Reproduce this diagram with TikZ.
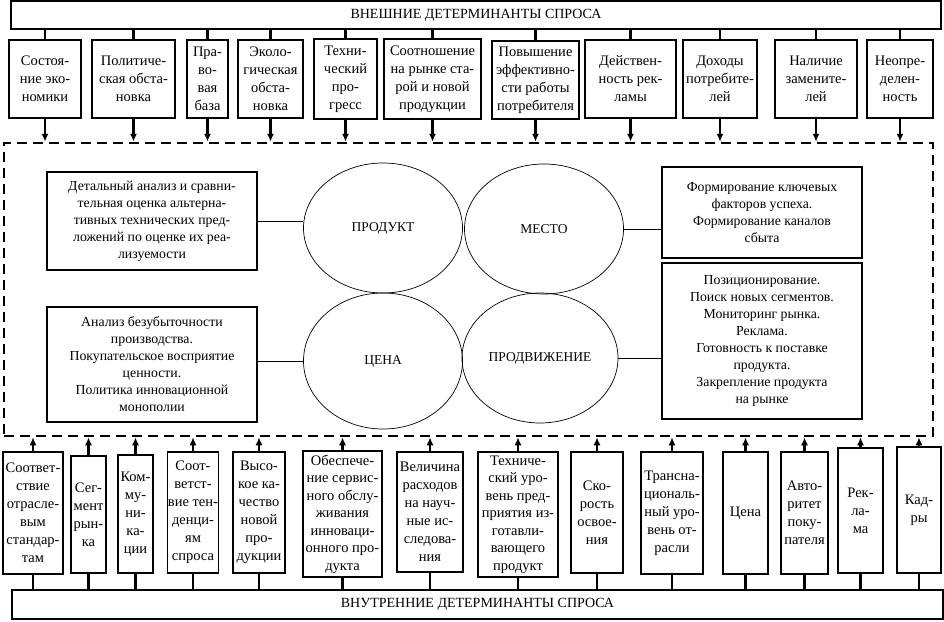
\documentclass[tikz,border=0pt]{standalone}
\usepackage{fontspec}
\setmainfont{Liberation Serif}
\usetikzlibrary{arrows.meta,positioning,shapes.geometric}

\begin{document}
\begin{tikzpicture}[
  x=1pt, y=-1pt,
  bar/.style  ={draw=black, line width=1.5pt, font=\fontsize{14}{16}\selectfont},
  det/.style  ={draw=black, line width=1.5pt, align=center, inner sep=0.5pt, font=\fontsize{14.5}{18}\selectfont},
  plan/.style ={draw=black, line width=1.2pt, align=center, inner sep=2pt, font=\fontsize{13.8}{17}\selectfont},
  mixel/.style={ellipse, draw=black, line width=0.7pt, minimum width=159pt, minimum height=130pt, font=\fontsize{13.5}{15}\selectfont},
  arr/.style  ={-{Latex[length=8pt,width=7pt]}, line width=2.5pt},
  feed/.style ={line width=2.5pt},
  lnk/.style  ={line width=0.8pt},
]
  \useasboundingbox (0,0) rectangle (944,621);

  % external determinants
  \node[bar, minimum width=930pt, minimum height=28pt] (ext) at (476,15) {ВНЕШНИЕ ДЕТЕРМИНАНТЫ СПРОСА};

  \node[det, minimum width=72pt, minimum height=78pt] (t1)  at (45,79)    {Состоя-\\ние эко-\\номики};
  \node[det, minimum width=83pt, minimum height=78pt] (t2)  at (133.5,79) {Политиче-\\ская обста-\\новка};
  \node[det, minimum width=41pt, minimum height=78pt] (t3)  at (207.5,79) {Пра-\\во-\\вая\\база};
  \node[det, minimum width=65pt, minimum height=78pt] (t4)  at (270.5,79) {Эколо-\\гическая\\обста-\\новка};
  \node[det, minimum width=63pt, minimum height=80pt] (t5)  at (345.5,79) {Техни-\\ческий\\про-\\гресс};
  \node[det, minimum width=97pt, minimum height=80pt] (t6)  at (432.5,79) {Соотношение\\на рынке ста-\\рой и новой\\продукции};
  \node[det, minimum width=87pt, minimum height=78pt] (t7)  at (535.5,80) {Повышение\\эффективно-\\сти работы\\потребителя};
  \node[det, minimum width=91pt, minimum height=78pt] (t8)  at (630.5,79) {Действен-\\ность рек-\\ламы};
  \node[det, minimum width=74pt, minimum height=78pt] (t9)  at (720,79)   {Доходы\\потребите-\\лей};
  \node[det, minimum width=82pt, minimum height=78pt] (t10) at (816,79)   {Наличие\\замените-\\лей};
  \node[det, minimum width=66pt, minimum height=78pt] (t11) at (900,79)   {Неопре-\\делен-\\ность};

  % marketing mix
  \node[draw=black, line width=2.5pt, dash pattern=on 10pt off 6pt, minimum width=929pt, minimum height=293pt] (mix) at (468.5,289.5) {};

  \node[mixel] (prod)  at (383,228) {ПРОДУКТ};
  \node[mixel] (place) at (544,229) {МЕСТО};
  \node[mixel, minimum height=136pt] (price) at (383,361) {ЦЕНА};
  \node[mixel, minimum width=156pt] (promo) at (540,358) {ПРОДВИЖЕНИЕ};

  \node[plan, minimum width=210pt, minimum height=98pt]  (l1) at (152,221)   {Детальный анализ и сравни-\\тельная оценка альтерна-\\тивных технических пред-\\ложений по оценке их реа-\\лизуемости};
  \node[plan, minimum width=210pt, minimum height=115pt] (l2) at (152,364.5) {Анализ безубыточности\\производства.\\Покупательское восприятие\\ценности.\\Политика инновационной\\монополии};
  \node[plan, minimum width=200pt, minimum height=91pt]  (r1) at (762,212.5) {Формирование ключевых\\факторов успеха.\\Формирование каналов\\сбыта};
  \node[plan, minimum width=200pt, minimum height=156pt] (r2) at (762,341)   {Позиционирование.\\Поиск новых сегментов.\\Мониторинг рынка.\\Реклама.\\Готовность к поставке\\продукта.\\Закрепление продукта\\на рынке};

  \draw[lnk] (l1.east) -- (l1.east -| prod.west);
  \draw[lnk] (place.east) -- (place.east -| r1.west);
  \draw[lnk] (price.west -| l2.east) -- (price.west);
  \draw[lnk] (promo.east) -- (promo.east -| r2.west);

  % internal determinants
  \node[bar, minimum width=931pt, minimum height=29pt] (int) at (477.5,604.5) {ВНУТРЕННИЕ ДЕТЕРМИНАНТЫ СПРОСА};

  \node[det, minimum width=60pt, minimum height=122pt] (b1)  at (33,513)    {Соответ-\\ствие\\отрасле-\\вым\\стандар-\\там};
  \node[det, minimum width=35pt, minimum height=117pt] (b2)  at (88.5,514.5) {Сег-\\мент\\рын-\\ка};
  \node[det, minimum width=35pt, minimum height=118pt] (b3)  at (135.5,514) {Ком-\\му-\\ни-\\ка-\\ции};
  \node[det, minimum width=50pt, minimum height=121pt] (b4)  at (193,512.5) {Соот-\\ветст-\\вие тен-\\денци-\\ям\\спроса};
  \node[det, minimum width=52pt, minimum height=121pt] (b5)  at (259,512.5) {Высо-\\кое ка-\\чество\\новой\\про-\\дукции};
  \node[det, minimum width=79pt, minimum height=126pt, font=\fontsize{14.5}{17.5}\selectfont] (b6) at (342.5,514) {Обеспече-\\ние сервис-\\ного обслу-\\живания\\инноваци-\\онного про-\\дукта};
  \node[det, minimum width=66pt, minimum height=120pt] (b7)  at (430,512)   {Величина\\расходов\\на науч-\\ные ис-\\следова-\\ния};
  \node[det, minimum width=80pt, minimum height=125pt, font=\fontsize{14.5}{17.5}\selectfont] (b8) at (518,514.5) {Техниче-\\ский уро-\\вень пред-\\приятия из-\\готавли-\\вающего\\продукт};
  \node[det, minimum width=52pt, minimum height=121pt] (b9)  at (597,512.5) {Ско-\\рость\\освое-\\ния};
  \node[det, minimum width=62pt, minimum height=122pt] (b10) at (672,513)   {Трансна-\\циональ-\\ный уро-\\вень от-\\расли};
  \node[det, minimum width=45pt, minimum height=122pt] (b11) at (745.5,513) {Цена};
  \node[det, minimum width=47pt, minimum height=122pt] (b12) at (804.5,513) {Авто-\\ритет\\поку-\\пателя};
  \node[det, minimum width=45pt, minimum height=125pt] (b13) at (860.5,510.5) {Рек-\\ла-\\ма};
  \node[det, minimum width=44pt, minimum height=126pt] (b14) at (919,510)   {Кад-\\ры};

  % connectors
  \draw[feed] (t1.north |- ext.south) -- (t1.north);   \draw[arr] (t1.south) -- (t1.south |- mix.north);
  \draw[feed] (t2.north |- ext.south) -- (t2.north);   \draw[arr] (t2.south) -- (t2.south |- mix.north);
  \draw[feed] (t3.north |- ext.south) -- (t3.north);   \draw[arr] (t3.south) -- (t3.south |- mix.north);
  \draw[feed] (t4.north |- ext.south) -- (t4.north);   \draw[arr] (t4.south) -- (t4.south |- mix.north);
  \draw[feed] (t5.north |- ext.south) -- (t5.north);   \draw[arr] (t5.south) -- (t5.south |- mix.north);
  \draw[feed] (t6.north |- ext.south) -- (t6.north);   \draw[arr] (t6.south) -- (t6.south |- mix.north);
  \draw[feed] (t7.north |- ext.south) -- (t7.north);   \draw[arr] (t7.south) -- (t7.south |- mix.north);
  \draw[feed] (t8.north |- ext.south) -- (t8.north);   \draw[arr] (t8.south) -- (t8.south |- mix.north);
  \draw[feed] (t9.north |- ext.south) -- (t9.north);   \draw[arr] (t9.south) -- (t9.south |- mix.north);
  \draw[feed] (t10.north |- ext.south) -- (t10.north); \draw[arr] (t10.south) -- (t10.south |- mix.north);
  \draw[feed] (t11.north |- ext.south) -- (t11.north); \draw[arr] (t11.south) -- (t11.south |- mix.north);

  \draw[feed] (b1.south |- int.north) -- (b1.south);   \draw[arr] (b1.north) -- (b1.north |- mix.south);
  \draw[feed] (b2.south |- int.north) -- (b2.south);   \draw[arr] (b2.north) -- (b2.north |- mix.south);
  \draw[feed] (b3.south |- int.north) -- (b3.south);   \draw[arr] (b3.north) -- (b3.north |- mix.south);
  \draw[feed] (b4.south |- int.north) -- (b4.south);   \draw[arr] (b4.north) -- (b4.north |- mix.south);
  \draw[feed] (b5.south |- int.north) -- (b5.south);   \draw[arr] (b5.north) -- (b5.north |- mix.south);
  \draw[feed] (b6.south |- int.north) -- (b6.south);   \draw[arr] (b6.north) -- (b6.north |- mix.south);
  \draw[feed] (b7.south |- int.north) -- (b7.south);   \draw[arr] (b7.north) -- (b7.north |- mix.south);
  \draw[feed] (b8.south |- int.north) -- (b8.south);   \draw[arr] (b8.north) -- (b8.north |- mix.south);
  \draw[feed] (b9.south |- int.north) -- (b9.south);   \draw[arr] (b9.north) -- (b9.north |- mix.south);
  \draw[feed] (b10.south |- int.north) -- (b10.south); \draw[arr] (b10.north) -- (b10.north |- mix.south);
  \draw[feed] (b11.south |- int.north) -- (b11.south); \draw[arr] (b11.north) -- (b11.north |- mix.south);
  \draw[feed] (b12.south |- int.north) -- (b12.south); \draw[arr] (b12.north) -- (b12.north |- mix.south);
  \draw[feed] (b13.south |- int.north) -- (b13.south); \draw[arr] (b13.north) -- (b13.north |- mix.south);
  \draw[feed] (b14.south |- int.north) -- (b14.south); \draw[arr] (b14.north) -- (b14.north |- mix.south);
\end{tikzpicture}
\end{document}
